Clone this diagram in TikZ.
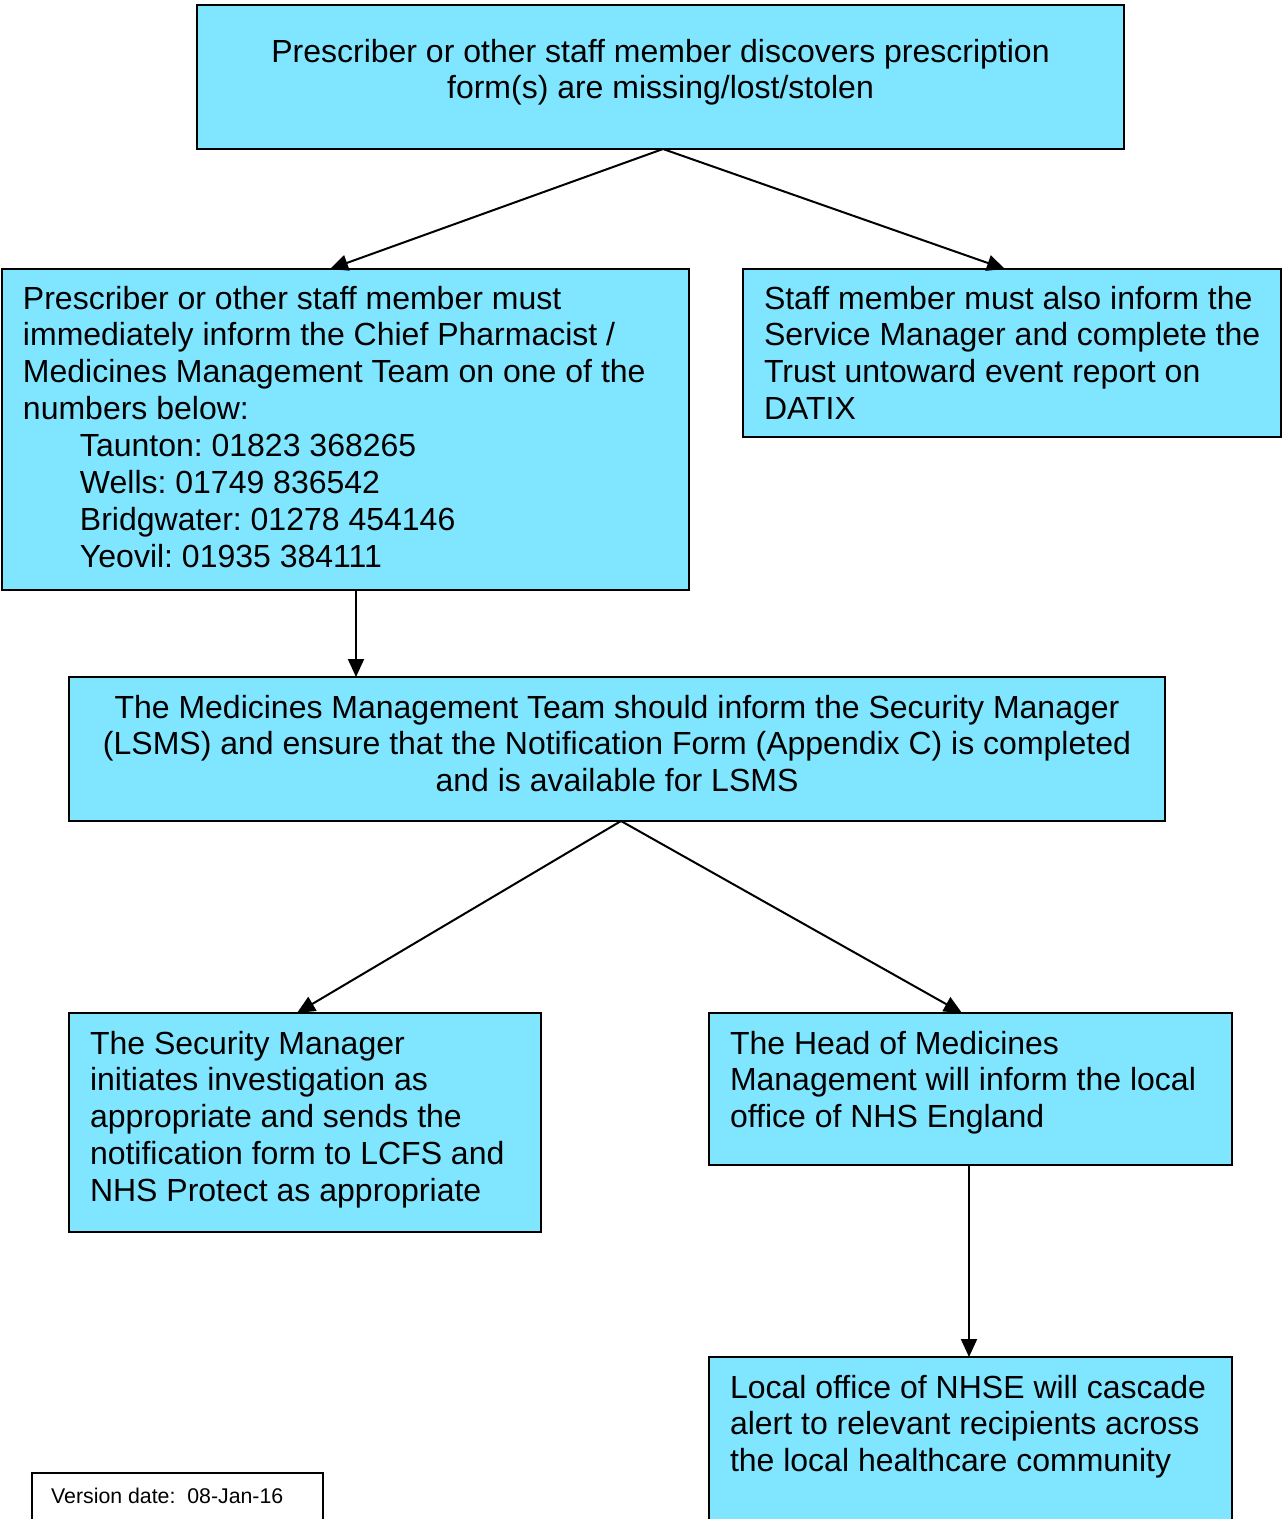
\documentclass[tikz,border=0pt]{standalone}
\usepackage{fontspec}
\setmainfont{Liberation Sans}
\usetikzlibrary{arrows.meta}
\definecolor{boxc}{RGB}{128,229,255}
\frenchspacing
\newcommand{\lefttext}[1]{\parbox[t]{900pt}{\frenchspacing\raggedright #1}}
\newcommand{\midtext}[1]{\parbox[t]{1200pt}{\frenchspacing\centering #1}}
\tikzset{
  box/.style={draw=black, line width=2pt, fill=boxc, inner sep=0pt, outer sep=0pt, anchor=north west},
  txt/.style={inner sep=0pt, outer sep=0pt, font=\fontsize{32}{36.9}\selectfont},
  arr/.style={line width=2pt, -{Triangle[length=18pt,width=16pt]}}
}
\begin{document}
\begin{tikzpicture}[x=1pt,y=-1pt]
\useasboundingbox (0,0) rectangle (1282,1519);
\clip (0,0) rectangle (1282,1519);
\fill[white] (0,0) rectangle (1282,1519);
% boxes
\node[box, minimum width=927pt, minimum height=144pt] (A) at (197,5) {};
\node[box, minimum width=687pt, minimum height=321pt] (B) at (2,269) {};
\node[box, minimum width=538pt, minimum height=168pt] (C) at (743,269) {};
\node[box, minimum width=1096pt, minimum height=144pt] (D) at (69,677) {};
\node[box, minimum width=472pt, minimum height=219pt] (E) at (69,1013) {};
\node[box, minimum width=523pt, minimum height=152pt] (F) at (709,1013) {};
\node[box, minimum width=523pt, minimum height=200pt] (G) at (709,1357) {};
\node[draw=black, line width=1.5pt, fill=white, inner sep=0pt, anchor=north west, minimum width=291pt, minimum height=80pt] (V) at (31,1472) {};
% texts
\node[txt, anchor=base] (At) at (660.5,62) {\midtext{Prescriber or other staff member discovers prescription\\form(s) are missing/lost/stolen}};
\node[txt, anchor=base west] (Bt) at (23,309) {\lefttext{Prescriber or other staff member must\\immediately inform the Chief Pharmacist /\\Medicines Management Team on one of the\\numbers below:\\
\hspace*{57pt}Taunton: 01823 368265\\
\hspace*{57pt}Wells: 01749 836542\\
\hspace*{57pt}Bridgwater: 01278 454146\\
\hspace*{57pt}Yeovil: 01935 384111}};
\node[txt, anchor=base west] (Ct) at (764,309) {\lefttext{Staff member must also inform the\\Service Manager and complete the\\Trust untoward event report on\\DATIX}};
\node[txt, anchor=base] (Dt) at (617,718) {\midtext{The Medicines Management Team should inform the Security Manager\\(LSMS) and ensure that the Notification Form (Appendix C) is completed\\and is available for LSMS}};
\node[txt, anchor=base west] (Et) at (90,1054) {\lefttext{The Security Manager\\initiates investigation as\\appropriate and sends the\\notification form to LCFS and\\NHS Protect as appropriate}};
\node[txt, anchor=base west] (Ft) at (730,1054) {\lefttext{The Head of Medicines\\Management will inform the local\\office of NHS England}};
\node[txt, anchor=base west] (Gt) at (730,1398) {\lefttext{Local office of NHSE will cascade\\alert to relevant recipients across\\the local healthcare community}};
\node[inner sep=0pt, anchor=base west, font=\fontsize{21.3}{25}\selectfont] (Vt) at (51,1503) {Version date:\ \ 08-Jan-16};
% connectors
\draw[arr] ([xshift=2.5pt]A.south) -- ([xshift=328pt]B.north west);
\draw[arr] ([xshift=2.5pt]A.south) -- ([xshift=262pt]C.north west);
\draw[arr] ([xshift=354pt]B.south west) -- ([xshift=287pt]D.north west);
\draw[arr] ([xshift=4pt]D.south) -- ([xshift=228pt]E.north west);
\draw[arr] ([xshift=4pt]D.south) -- ([xshift=253pt]F.north west);
\draw[arr] ([xshift=260pt]F.south west) -- ([xshift=260pt]G.north west);
\end{tikzpicture}
\end{document}
